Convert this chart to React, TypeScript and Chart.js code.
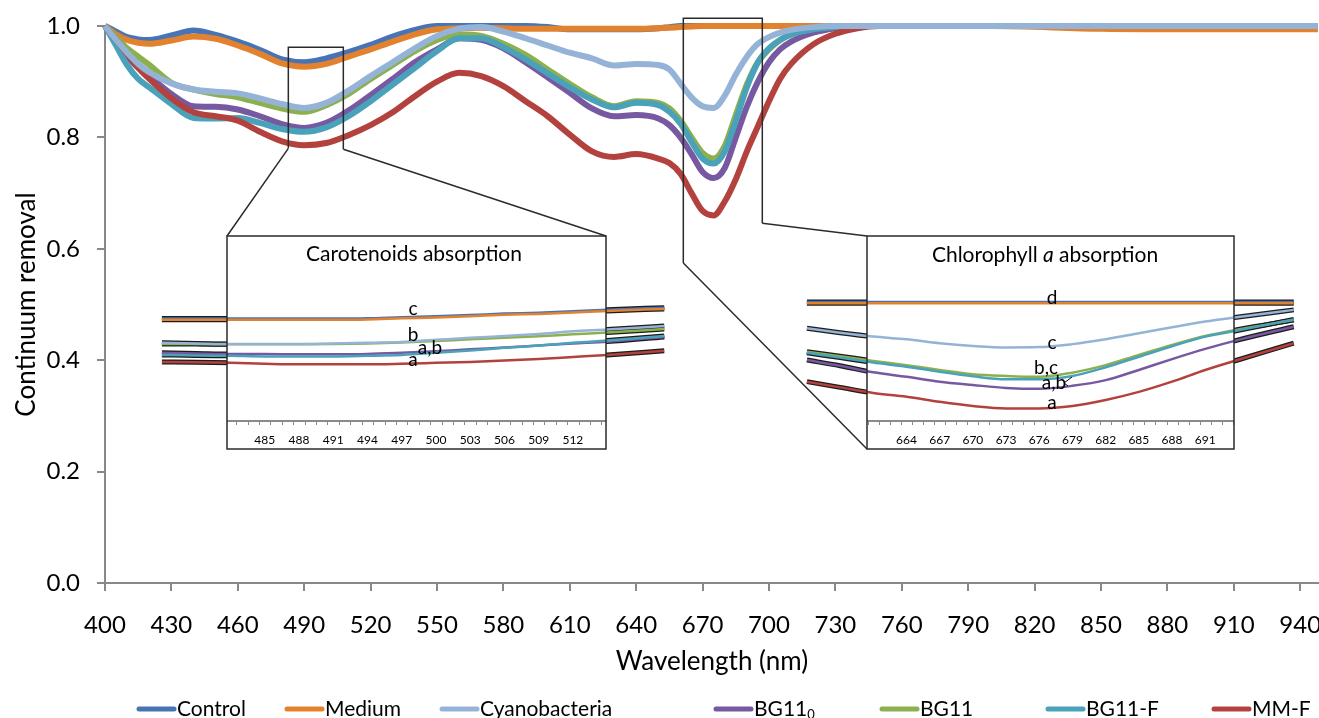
import React, { useEffect, useRef } from "react";
import { Chart, registerables } from "chart.js";
Chart.register(...registerables);

const FONT = "Lato, 'Noto Sans', sans-serif";

// ---------------- main chart data ----------------
const wavelengths = [400, 405, 410, 415, 420, 430, 440, 450, 460, 470, 480, 490, 500, 510, 520, 530, 540, 550, 560, 570, 580, 590, 600, 610, 620, 630, 640, 650, 655, 660, 665, 670, 675, 680, 685, 690, 695, 700, 705, 710, 720, 730, 740, 750, 800, 850, 900, 948];

const control = [1.0, 0.99, 0.98, 0.976, 0.975, 0.983, 0.992, 0.984, 0.972, 0.957, 0.94, 0.935, 0.942, 0.953, 0.966, 0.981, 0.993, 1.0, 1.0, 1.0, 1.0, 1.0, 0.998, 0.994, 0.994, 0.994, 0.994, 0.996, 0.998, 1.0, 1.0, 1.0, 1.0, 1.0, 1.0, 1.0, 1.0, 1.0, 1.0, 1.0, 1.0, 1.0, 1.0, 1.0, 1.0, 1.0, 1.0, 1.0];
const medium = [1.0, 0.985, 0.975, 0.97, 0.968, 0.974, 0.981, 0.977, 0.965, 0.95, 0.933, 0.927, 0.932, 0.945, 0.958, 0.972, 0.985, 0.994, 0.996, 0.997, 0.996, 0.995, 0.995, 0.995, 0.995, 0.995, 0.995, 0.996, 0.997, 0.998, 0.999, 1.0, 1.0, 1.0, 1.0, 1.0, 1.0, 1.0, 1.0, 1.0, 1.0, 1.0, 1.0, 1.0, 1.0, 0.995, 0.994, 0.994];
const cyanobacteria = [1.0, 0.975, 0.952, 0.932, 0.917, 0.897, 0.886, 0.882, 0.879, 0.87, 0.86, 0.853, 0.862, 0.884, 0.91, 0.935, 0.96, 0.982, 0.995, 0.998, 0.99, 0.978, 0.965, 0.952, 0.942, 0.929, 0.932, 0.93, 0.922, 0.897, 0.872, 0.856, 0.853, 0.875, 0.913, 0.945, 0.968, 0.98, 0.988, 0.993, 0.998, 1.0, 1.0, 1.0, 1.0, 1.0, 1.0, 1.0];
const bg110 = [1.0, 0.97, 0.945, 0.925, 0.91, 0.878, 0.856, 0.855, 0.85, 0.838, 0.824, 0.817, 0.826, 0.848, 0.876, 0.905, 0.935, 0.958, 0.978, 0.975, 0.96, 0.935, 0.908, 0.88, 0.852, 0.838, 0.84, 0.834, 0.822, 0.8, 0.77, 0.738, 0.727, 0.745, 0.8, 0.855, 0.9, 0.935, 0.958, 0.972, 0.988, 0.996, 1.0, 1.0, 1.0, 1.0, 1.0, 1.0];
const bg11 = [1.0, 0.98, 0.96, 0.945, 0.93, 0.898, 0.886, 0.878, 0.872, 0.862, 0.852, 0.846, 0.858, 0.878, 0.905, 0.93, 0.955, 0.975, 0.985, 0.982, 0.968, 0.948, 0.922, 0.896, 0.872, 0.856, 0.865, 0.862, 0.852, 0.83, 0.8, 0.772, 0.762, 0.785, 0.84, 0.895, 0.935, 0.958, 0.975, 0.985, 0.995, 0.999, 1.0, 1.0, 1.0, 1.0, 1.0, 1.0];
const bg11f = [1.0, 0.965, 0.93, 0.905, 0.89, 0.86, 0.835, 0.834, 0.835, 0.826, 0.815, 0.81, 0.818, 0.838, 0.865, 0.895, 0.925, 0.955, 0.978, 0.978, 0.962, 0.94, 0.915, 0.89, 0.868, 0.854, 0.862, 0.858, 0.846, 0.825, 0.792, 0.762, 0.753, 0.775, 0.83, 0.89, 0.935, 0.96, 0.975, 0.985, 0.994, 0.998, 1.0, 1.0, 1.0, 1.0, 1.0, 1.0];
const mmf = [1.0, 0.975, 0.95, 0.925, 0.905, 0.87, 0.845, 0.838, 0.83, 0.81, 0.793, 0.786, 0.79, 0.804, 0.822, 0.845, 0.874, 0.9, 0.916, 0.91, 0.892, 0.865, 0.838, 0.805, 0.775, 0.765, 0.77, 0.762, 0.754, 0.735, 0.7, 0.668, 0.66, 0.685, 0.725, 0.775, 0.82, 0.865, 0.905, 0.932, 0.967, 0.986, 0.996, 1.0, 1.0, 1.0, 1.0, 1.0];

const seriesLabels = ["Control", "Medium", "Cyanobacteria", "BG11\u2080", "BG11", "BG11-F", "MM-F"];
const seriesColors = ["#4674B6", "#E2822F", "#95B3D7", "#7659A0", "#8DB04E", "#4AA2BA", "#B3423E"];
const drawOrder = [200, 199, 190, 197, 196, 195, 194];

const xMin = 400;
const xMax = 948.5;
const xTickValues = [400, 430, 460, 490, 520, 550, 580, 610, 640, 670, 700, 730, 760, 790, 820, 850, 880, 910, 940];
const yMin = 0;
const yMax = 1;
const yStep = 0.2;

// ---------------- inset: carotenoids ----------------
const caroWavelengths = [476, 479, 482, 485, 488, 491, 494, 497, 500, 503, 506, 509, 512, 515, 520];
const caroControl = [0.936, 0.936, 0.936, 0.936, 0.936, 0.936, 0.937, 0.941, 0.944, 0.948, 0.953, 0.956, 0.961, 0.966, 0.973];
const caroMedium = [0.932, 0.932, 0.932, 0.932, 0.932, 0.932, 0.933, 0.937, 0.94, 0.944, 0.949, 0.952, 0.957, 0.962, 0.969];
const caroCyano = [0.854, 0.852, 0.85, 0.85, 0.85, 0.852, 0.854, 0.857, 0.864, 0.871, 0.877, 0.884, 0.893, 0.899, 0.911];
const caroBG110 = [0.82, 0.818, 0.816, 0.816, 0.815, 0.815, 0.816, 0.82, 0.825, 0.832, 0.838, 0.845, 0.852, 0.858, 0.874];
const caroBG11 = [0.85, 0.85, 0.849, 0.849, 0.849, 0.85, 0.852, 0.855, 0.86, 0.866, 0.871, 0.876, 0.883, 0.889, 0.901];
const caroBG11F = [0.813, 0.811, 0.81, 0.808, 0.808, 0.808, 0.81, 0.813, 0.82, 0.828, 0.837, 0.845, 0.854, 0.862, 0.877];
const caroMMF = [0.789, 0.788, 0.786, 0.783, 0.781, 0.781, 0.781, 0.783, 0.786, 0.789, 0.794, 0.799, 0.806, 0.813, 0.827];
const caroTickLabels = [485, 488, 491, 494, 497, 500, 503, 506, 509, 512];

// ---------------- inset: chlorophyll a ----------------
const chloWavelengths = [655, 658, 661, 664, 667, 670, 673, 676, 679, 682, 685, 688, 691, 694, 699];
const chloControl = [1.002, 1.002, 1.002, 1.002, 1.002, 1.002, 1.002, 1.002, 1.002, 1.002, 1.002, 1.002, 1.002, 1.002, 1.002];
const chloMedium = [0.998, 0.998, 0.998, 0.998, 0.998, 0.998, 0.998, 0.998, 0.998, 0.998, 0.998, 0.998, 0.998, 0.998, 0.998];
const chloCyano = [0.915, 0.9, 0.887, 0.878, 0.865, 0.856, 0.851, 0.852, 0.862, 0.878, 0.898, 0.918, 0.937, 0.952, 0.976];
const chloBG110 = [0.809, 0.79, 0.768, 0.753, 0.737, 0.726, 0.716, 0.713, 0.723, 0.742, 0.776, 0.812, 0.846, 0.876, 0.92];
const chloBG11 = [0.837, 0.822, 0.806, 0.792, 0.776, 0.762, 0.756, 0.753, 0.767, 0.792, 0.826, 0.859, 0.889, 0.911, 0.942];
const chloBG11F = [0.833, 0.817, 0.801, 0.787, 0.77, 0.755, 0.745, 0.745, 0.756, 0.785, 0.82, 0.855, 0.887, 0.908, 0.944];
const chloMMF = [0.737, 0.718, 0.699, 0.687, 0.67, 0.656, 0.648, 0.648, 0.656, 0.676, 0.703, 0.737, 0.776, 0.81, 0.865];
const chloTickLabels = [664, 667, 670, 673, 676, 679, 682, 685, 688, 691];

// ---------------- layout (pixels) ----------------
const CA = { left: 105, top: 26, right: 1319, bottom: 583 };

const INSETS = [
  {
    xId: "xc", yId: "yc",
    waves: caroWavelengths,
    series: [caroControl, caroMedium, caroCyano, caroBG110, caroBG11, caroBG11F, caroMMF],
    box: { l: 227, t: 236, r: 606, b: 449 }, axisY: 421,
    xLo: 481.7, xHi: 514.9, yLo: 0.589, yHi: 1.216,
    tickFrom: 482.5, tickTo: 514.5, labels: caroTickLabels,
    title: [{ t: "Carotenoids absorption", i: false }], titleX: 414, titleY: 254,
    letters: [
      { t: "c", x: 413, y: 309 }, { t: "b", x: 413, y: 335 },
      { t: "a,b", x: 430, y: 348 }, { t: "a", x: 413, y: 360 },
    ],
    frame: { x0: 482.83, x1: 507.68, top: 0.9617, botL: 0.7804, botR: 0.7786 },
    links: [["L", "l", "t"], ["R", "r", "t"]],
  },
  {
    xId: "xa", yId: "ya",
    waves: chloWavelengths,
    series: [chloControl, chloMedium, chloCyano, chloBG110, chloBG11, chloBG11F, chloMMF],
    box: { l: 867, t: 236, r: 1234, b: 449 }, axisY: 421,
    xLo: 660.43, xHi: 693.6, yLo: 0.606, yHi: 1.222,
    tickFrom: 660.5, tickTo: 693.5, labels: chloTickLabels,
    title: [{ t: "Chlorophyll ", i: false }, { t: "a", i: true }, { t: " absorption", i: false }], titleX: 1045, titleY: 255,
    letters: [
      { t: "d", x: 1052, y: 298 }, { t: "c", x: 1052, y: 343 },
      { t: "b,c", x: 1046, y: 368 }, { t: "a,b", x: 1054, y: 383 }, { t: "a", x: 1052, y: 403 },
    ],
    frame: { x0: 661.29, x1: 696.98, top: 1.0138, botL: 0.5745, botR: 0.6458 },
    links: [["L", "l", "b"], ["R", "l", "t"]],
  },
];

const legendX = [137, 285, 440, 714, 880, 1046, 1212];

function insetRange(ins: any) {
  const ux = (ins.xHi - ins.xLo) / (ins.box.r - ins.box.l);
  const uy = (ins.yHi - ins.yLo) / (ins.axisY - ins.box.t);
  return {
    xmin: ins.xLo - (ins.box.l - CA.left) * ux,
    xmax: ins.xHi + (CA.right - ins.box.r) * ux,
    ymin: ins.yLo - (CA.bottom - ins.axisY) * uy,
    ymax: ins.yHi + (ins.box.t - CA.top) * uy,
  };
}

const insetPlugin = {
  id: "insetPlugin",
  beforeDatasetsDraw(chart: any) {
    chart.$boxesDone = false;
  },
  beforeDatasetDraw(chart: any, args: any) {
    const ds = chart.data.datasets[args.index];
    if (ds.insetColor && !chart.$boxesDone) {
      const ctx = chart.ctx;
      ctx.save();
      ctx.fillStyle = "#ffffff";
      INSETS.forEach((ins) => {
        ctx.fillRect(ins.box.l, ins.box.t, ins.box.r - ins.box.l, ins.box.b - ins.box.t);
      });
      ctx.restore();
      chart.$boxesDone = true;
    }
  },
  afterDatasetsDraw(chart: any) {
    const ctx = chart.ctx;
    const mx = chart.scales.x;
    const my = chart.scales.y;
    ctx.save();
    INSETS.forEach((ins) => {
      const xs = chart.scales[ins.xId];
      const b = ins.box;
      ctx.strokeStyle = "#8a8a8a";
      ctx.lineWidth = 2;
      ctx.beginPath();
      ctx.moveTo(b.l, ins.axisY);
      ctx.lineTo(b.r, ins.axisY);
      ctx.stroke();
      ctx.lineWidth = 1;
      for (let w = ins.tickFrom; w <= ins.tickTo + 0.001; w += 1) {
        const px = Math.round(xs.getPixelForValue(w)) + 0.5;
        ctx.beginPath();
        ctx.moveTo(px, ins.axisY);
        ctx.lineTo(px, ins.axisY + 4);
        ctx.stroke();
      }
      ctx.fillStyle = "#000";
      ctx.font = `12px ${FONT}`;
      ctx.textAlign = "center";
      ctx.textBaseline = "middle";
      ins.labels.forEach((w: number) => {
        ctx.fillText(String(w), xs.getPixelForValue(w), 440);
      });
      ctx.strokeStyle = "#2b2b2b";
      ctx.lineWidth = 1.5;
      ctx.strokeRect(b.l, b.t, b.r - b.l, b.b - b.t);
      ctx.textAlign = "left";
      let total = 0;
      ins.title.forEach((p: any) => {
        ctx.font = `${p.i ? "italic " : ""}21px ${FONT}`;
        total += ctx.measureText(p.t).width;
      });
      let tx = ins.titleX - total / 2;
      ins.title.forEach((p: any) => {
        ctx.font = `${p.i ? "italic " : ""}21px ${FONT}`;
        ctx.fillText(p.t, tx, ins.titleY);
        tx += ctx.measureText(p.t).width;
      });
      ctx.textAlign = "center";
      ctx.font = `19px ${FONT}`;
      ins.letters.forEach((l: any) => ctx.fillText(l.t, l.x, l.y));
      const fx0 = mx.getPixelForValue(ins.frame.x0);
      const fx1 = mx.getPixelForValue(ins.frame.x1);
      const ft = my.getPixelForValue(ins.frame.top);
      const fbl = my.getPixelForValue(ins.frame.botL);
      const fbr = my.getPixelForValue(ins.frame.botR);
      ctx.strokeStyle = "#2b2b2b";
      ctx.lineWidth = 1.5;
      ctx.beginPath();
      ctx.moveTo(fx0, fbl);
      ctx.lineTo(fx0, ft);
      ctx.lineTo(fx1, ft);
      ctx.lineTo(fx1, fbr);
      ctx.stroke();
      ins.links.forEach((lk: any) => {
        const sx = lk[0] === "L" ? fx0 : fx1;
        const sy = lk[0] === "L" ? fbl : fbr;
        const ex = lk[1] === "l" ? b.l : b.r;
        const ey = lk[2] === "t" ? b.t : b.b;
        ctx.beginPath();
        ctx.moveTo(sx, sy);
        ctx.lineTo(ex, ey);
        ctx.stroke();
      });
    });
    ctx.strokeStyle = "#000";
    ctx.lineWidth = 1;
    ctx.beginPath();
    ctx.moveTo(1072, 377);
    ctx.lineTo(1064, 383);
    ctx.lineTo(1068, 386);
    ctx.stroke();
    ctx.restore();
  },
  afterDraw(chart: any) {
    const ctx = chart.ctx;
    ctx.save();
    const y = 709;
    seriesLabels.forEach((lab, i) => {
      const x0 = legendX[i];
      ctx.strokeStyle = seriesColors[i];
      ctx.lineWidth = 5;
      ctx.lineCap = "round";
      ctx.beginPath();
      ctx.moveTo(x0 + 2, y);
      ctx.lineTo(x0 + 37, y);
      ctx.stroke();
      ctx.fillStyle = "#000";
      ctx.textAlign = "left";
      ctx.textBaseline = "middle";
      ctx.font = `21px ${FONT}`;
      if (lab.endsWith("\u2080")) {
        const base = lab.slice(0, -1);
        ctx.fillText(base, x0 + 40, y);
        const w = ctx.measureText(base).width;
        ctx.font = `13px ${FONT}`;
        ctx.fillText("0", x0 + 40 + w, y + 6);
      } else {
        ctx.fillText(lab, x0 + 40, y);
      }
    });
    ctx.restore();
  },
};

export default function App() {
  const ref = useRef<HTMLCanvasElement | null>(null);
  useEffect(() => {
    if (!ref.current) return;
    const datasets: any[] = [];
    const mainSeries = [control, medium, cyanobacteria, bg110, bg11, bg11f, mmf];
    mainSeries.forEach((arr, i) => {
      datasets.push({
        label: seriesLabels[i],
        data: wavelengths.map((w, j) => ({ x: w, y: arr[j] })),
        borderColor: seriesColors[i],
        backgroundColor: seriesColors[i],
        borderWidth: 6,
        pointRadius: 0,
        fill: false,
        cubicInterpolationMode: "monotone",
        clip: false,
        order: drawOrder[i],
        xAxisID: "x",
        yAxisID: "y",
      });
    });
    INSETS.forEach((ins, k) => {
      ins.series.forEach((arr: number[], i: number) => {
        datasets.push({
          label: seriesLabels[i] + " outline " + k,
          data: ins.waves.map((w: number, j: number) => ({ x: w, y: arr[j] })),
          borderColor: "#1c1c1c",
          borderWidth: 5,
          pointRadius: 0,
          fill: false,
          cubicInterpolationMode: "monotone",
          order: 150 - k * 10 - i,
          xAxisID: ins.xId,
          yAxisID: ins.yId,
        });
      });
      ins.series.forEach((arr: number[], i: number) => {
        datasets.push({
          label: seriesLabels[i] + " inset " + k,
          data: ins.waves.map((w: number, j: number) => ({ x: w, y: arr[j] })),
          borderColor: seriesColors[i],
          borderWidth: 2.5,
          pointRadius: 0,
          fill: false,
          cubicInterpolationMode: "monotone",
          order: drawOrder[i] - 120 - k * 20,
          insetColor: true,
          xAxisID: ins.xId,
          yAxisID: ins.yId,
        });
      });
    });

    const scales: any = {
      x: {
        type: "linear",
        position: "bottom",
        min: xMin,
        max: xMax,
        afterFit: (s: any) => { s.height = 135; s.paddingLeft = 0; s.paddingRight = 0; },
        afterBuildTicks: (s: any) => { s.ticks = xTickValues.map((v) => ({ value: v })); },
        ticks: {
          autoSkip: false,
          maxRotation: 0,
          padding: 20,
          color: "#000",
          font: { family: FONT, size: 24 },
          callback: (v: any) => String(v),
        },
        grid: { drawOnChartArea: false, drawTicks: true, tickLength: 8, color: "#888888", lineWidth: 2 },
        border: { display: true, color: "#888888", width: 2 },
        title: {
          display: true,
          text: "Wavelength (nm)",
          color: "#000",
          font: { family: FONT, size: 26 },
          padding: { top: 0, bottom: 41 },
        },
      },
      y: {
        type: "linear",
        position: "left",
        min: yMin,
        max: yMax,
        afterFit: (s: any) => { s.width = 105; s.paddingTop = 0; s.paddingBottom = 0; },
        ticks: {
          stepSize: yStep,
          padding: 17,
          color: "#000",
          font: { family: FONT, size: 24 },
          callback: (v: any) => Number(v).toFixed(1),
        },
        grid: { drawOnChartArea: false, drawTicks: true, tickLength: 8, color: "#888888", lineWidth: 2 },
        border: { display: true, color: "#888888", width: 2 },
        title: {
          display: true,
          text: "Continuum removal",
          color: "#000",
          font: { family: FONT, size: 26 },
          padding: { top: 11, bottom: 0 },
        },
      },
    };
    INSETS.forEach((ins) => {
      const r = insetRange(ins);
      scales[ins.xId] = { type: "linear", axis: "x", position: "bottom", display: false, min: r.xmin, max: r.xmax };
      scales[ins.yId] = { type: "linear", axis: "y", position: "left", display: false, min: r.ymin, max: r.ymax };
    });

    const chart = new Chart(ref.current, {
      type: "line",
      data: { datasets },
      options: {
        animation: false,
        responsive: true,
        maintainAspectRatio: false,
        events: [],
        layout: { padding: { top: 26, left: 0, right: 0, bottom: 0 } },
        plugins: { legend: { display: false }, tooltip: { enabled: false } },
        scales,
      } as any,
      plugins: [insetPlugin as any],
    });
    return () => chart.destroy();
  }, []);

  return (
    <div style={{ position: "fixed", left: 0, top: 0, width: 1319, height: 718, background: "#fff" }}>
      <canvas ref={ref} />
    </div>
  );
}
